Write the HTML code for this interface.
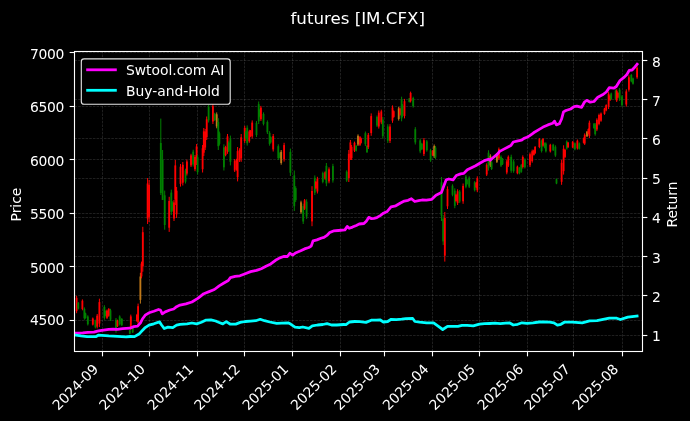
<!DOCTYPE html>
<html><head><meta charset="utf-8"><title>futures [IM.CFX]</title>
<style>html,body{margin:0;padding:0;background:#000;}body{width:690px;height:421px;overflow:hidden;}svg{display:block;filter:blur(0.35px);}
text{font-family:"DejaVu Sans","Liberation Sans",sans-serif;}</style></head>
<body>
<svg width="690" height="421" viewBox="0 0 690 421" font-family="DejaVu Sans, Liberation Sans, sans-serif">
<rect x="0" y="0" width="690" height="421" fill="#000"/>
<defs><clipPath id="ax"><rect x="74.4" y="51.4" width="568" height="299.9"/></clipPath></defs>
<g stroke="#fff" stroke-opacity="0.18" stroke-width="0.694" stroke-dasharray="2.569,1.111" fill="none">
<path d="M102.5 351.5V51.5"/>
<path d="M149.5 351.5V51.5"/>
<path d="M197.5 351.5V51.5"/>
<path d="M244.5 351.5V51.5"/>
<path d="M292.5 351.5V51.5"/>
<path d="M340.5 351.5V51.5"/>
<path d="M384.5 351.5V51.5"/>
<path d="M432.5 351.5V51.5"/>
<path d="M479.5 351.5V51.5"/>
<path d="M527.5 351.5V51.5"/>
<path d="M573.5 351.5V51.5"/>
<path d="M622.5 351.5V51.5"/>
<path d="M74.5 320.5H642.5"/>
<path d="M74.5 266.5H642.5"/>
<path d="M74.5 213.5H642.5"/>
<path d="M74.5 159.5H642.5"/>
<path d="M74.5 106.5H642.5"/>
<path d="M74.5 52.5H642.5"/>
<path d="M74.5 335.5H642.5"/>
<path d="M74.5 295.5H642.5"/>
<path d="M74.5 256.5H642.5"/>
<path d="M74.5 217.5H642.5"/>
<path d="M74.5 178.5H642.5"/>
<path d="M74.5 138.5H642.5"/>
<path d="M74.5 99.5H642.5"/>
<path d="M74.5 60.5H642.5"/>
</g>
<g clip-path="url(#ax)">
<path d="M76.6 295.8V313.2" stroke="#ff0000" stroke-width="1"/>
<rect x="75.70" y="297.9" width="1.8" height="13.2" fill="#ff0000"/>
<path d="M78.3 302.0V309.5" stroke="#008000" stroke-width="1"/>
<rect x="77.40" y="302.9" width="1.8" height="5.7" fill="#008000"/>
<path d="M82.4 299.4V310.3" stroke="#ff0000" stroke-width="1"/>
<rect x="81.50" y="300.7" width="1.8" height="8.3" fill="#ff0000"/>
<path d="M84.4 307.4V319.7" stroke="#008000" stroke-width="1"/>
<rect x="83.50" y="308.9" width="1.8" height="9.3" fill="#008000"/>
<path d="M85.5 312.7V318.7" stroke="#008000" stroke-width="1"/>
<rect x="84.60" y="313.4" width="1.8" height="4.6" fill="#008000"/>
<path d="M87.8 315.3V325.5" stroke="#008000" stroke-width="1"/>
<rect x="86.90" y="316.5" width="1.8" height="7.8" fill="#008000"/>
<path d="M92.8 317.5V325.5" stroke="#ff0000" stroke-width="1"/>
<rect x="91.90" y="318.5" width="1.8" height="6.1" fill="#ff0000"/>
<path d="M95.4 319.7V328.4" stroke="#008000" stroke-width="1"/>
<rect x="94.50" y="320.7" width="1.8" height="6.6" fill="#008000"/>
<path d="M97.2 314.0V328.4" stroke="#ff0000" stroke-width="1"/>
<rect x="96.30" y="315.7" width="1.8" height="10.9" fill="#ff0000"/>
<path d="M99.4 298.7V327.0" stroke="#ff0000" stroke-width="1"/>
<rect x="98.50" y="302.1" width="1.8" height="21.5" fill="#ff0000"/>
<path d="M104.4 305.2V319.7" stroke="#008000" stroke-width="1"/>
<rect x="103.50" y="306.9" width="1.8" height="11.0" fill="#008000"/>
<path d="M105.7 310.4V316.4" stroke="#008000" stroke-width="1"/>
<rect x="104.80" y="311.1" width="1.8" height="4.6" fill="#008000"/>
<path d="M107.0 309.5V319.0" stroke="#ff0000" stroke-width="1"/>
<rect x="106.10" y="310.6" width="1.8" height="7.2" fill="#ff0000"/>
<path d="M108.8 308.0V316.8" stroke="#ff0000" stroke-width="1"/>
<rect x="107.90" y="309.1" width="1.8" height="6.7" fill="#ff0000"/>
<path d="M110.5 308.8V321.0" stroke="#008000" stroke-width="1"/>
<rect x="109.60" y="310.3" width="1.8" height="9.3" fill="#008000"/>
<path d="M116.0 318.0V332.7" stroke="#008000" stroke-width="1"/>
<rect x="115.10" y="319.8" width="1.8" height="11.2" fill="#008000"/>
<path d="M117.5 319.7V327.0" stroke="#ff0000" stroke-width="1"/>
<rect x="116.60" y="320.6" width="1.8" height="5.5" fill="#ff0000"/>
<path d="M119.7 315.3V325.5" stroke="#008000" stroke-width="1"/>
<rect x="118.80" y="316.5" width="1.8" height="7.8" fill="#008000"/>
<path d="M121.8 318.0V326.0" stroke="#008000" stroke-width="1"/>
<rect x="120.90" y="319.0" width="1.8" height="6.1" fill="#008000"/>
<path d="M129.8 329.8V334.2" stroke="#008000" stroke-width="1"/>
<rect x="128.90" y="330.3" width="1.8" height="3.3" fill="#008000"/>
<path d="M130.8 314.6V329.8" stroke="#ff0000" stroke-width="1"/>
<rect x="129.90" y="316.4" width="1.8" height="11.6" fill="#ff0000"/>
<path d="M132.7 327.0V333.0" stroke="#008000" stroke-width="1"/>
<rect x="131.80" y="327.7" width="1.8" height="4.6" fill="#008000"/>
<path d="M136.9 313.9V321.9" stroke="#ff0000" stroke-width="1"/>
<rect x="136.00" y="314.9" width="1.8" height="6.1" fill="#ff0000"/>
<path d="M138.1 303.6V325.0" stroke="#ff0000" stroke-width="1"/>
<rect x="137.20" y="306.2" width="1.8" height="16.3" fill="#ff0000"/>
<path d="M140.4 272.8V303.6" stroke="#c07818" stroke-width="1"/>
<rect x="139.50" y="276.5" width="1.8" height="23.4" fill="#c07818"/>
<path d="M141.5 261.6V278.4" stroke="#ff0000" stroke-width="1"/>
<rect x="140.60" y="263.6" width="1.8" height="12.8" fill="#ff0000"/>
<path d="M142.8 226.8V271.7" stroke="#ff0000" stroke-width="1"/>
<rect x="141.90" y="232.2" width="1.8" height="34.1" fill="#ff0000"/>
<path d="M147.6 178.0V224.0" stroke="#ff0000" stroke-width="1"/>
<rect x="146.70" y="183.5" width="1.8" height="35.0" fill="#ff0000"/>
<path d="M149.1 180.0V222.0" stroke="#ff0000" stroke-width="1"/>
<rect x="148.20" y="185.0" width="1.8" height="31.9" fill="#ff0000"/>
<path d="M160.8 118.6V195.0" stroke="#008000" stroke-width="1"/>
<rect x="159.90" y="143.0" width="1.8" height="50.0" fill="#008000"/>
<path d="M162.6 150.0V200.0" stroke="#008000" stroke-width="1"/>
<rect x="161.70" y="160.0" width="1.8" height="40.0" fill="#008000"/>
<path d="M164.7 190.6V229.7" stroke="#008000" stroke-width="1"/>
<rect x="163.80" y="195.3" width="1.8" height="29.7" fill="#008000"/>
<path d="M169.2 196.8V231.9" stroke="#ff0000" stroke-width="1"/>
<rect x="168.30" y="201.0" width="1.8" height="26.7" fill="#ff0000"/>
<path d="M171.3 189.6V215.0" stroke="#008000" stroke-width="1"/>
<rect x="170.40" y="192.6" width="1.8" height="19.3" fill="#008000"/>
<path d="M172.7 201.2V211.6" stroke="#008000" stroke-width="1"/>
<rect x="171.80" y="202.4" width="1.8" height="7.9" fill="#008000"/>
<path d="M174.0 200.0V221.0" stroke="#ff0000" stroke-width="1"/>
<rect x="173.10" y="202.5" width="1.8" height="16.0" fill="#ff0000"/>
<path d="M175.3 160.0V205.0" stroke="#ff0000" stroke-width="1"/>
<rect x="174.40" y="165.4" width="1.8" height="34.2" fill="#ff0000"/>
<path d="M176.6 187.0V218.0" stroke="#ff0000" stroke-width="1"/>
<rect x="175.70" y="190.7" width="1.8" height="23.6" fill="#ff0000"/>
<path d="M180.5 164.0V186.6" stroke="#ff0000" stroke-width="1"/>
<rect x="179.60" y="166.7" width="1.8" height="17.2" fill="#ff0000"/>
<path d="M182.8 162.0V185.5" stroke="#ff0000" stroke-width="1"/>
<rect x="181.90" y="164.8" width="1.8" height="17.9" fill="#ff0000"/>
<path d="M185.5 168.7V183.5" stroke="#008000" stroke-width="1"/>
<rect x="184.60" y="170.5" width="1.8" height="11.2" fill="#008000"/>
<path d="M186.9 159.6V175.5" stroke="#ff0000" stroke-width="1"/>
<rect x="186.00" y="161.5" width="1.8" height="12.1" fill="#ff0000"/>
<path d="M191.0 153.8V167.0" stroke="#ff0000" stroke-width="1"/>
<rect x="190.10" y="155.4" width="1.8" height="10.0" fill="#ff0000"/>
<path d="M193.2 149.7V166.6" stroke="#008000" stroke-width="1"/>
<rect x="192.30" y="151.7" width="1.8" height="12.8" fill="#008000"/>
<path d="M195.0 155.0V171.2" stroke="#ff0000" stroke-width="1"/>
<rect x="194.10" y="156.9" width="1.8" height="12.3" fill="#ff0000"/>
<path d="M196.6 144.0V165.0" stroke="#ff0000" stroke-width="1"/>
<rect x="195.70" y="146.5" width="1.8" height="16.0" fill="#ff0000"/>
<path d="M197.6 155.0V174.5" stroke="#008000" stroke-width="1"/>
<rect x="196.70" y="157.3" width="1.8" height="14.8" fill="#008000"/>
<path d="M202.6 145.0V172.5" stroke="#ff0000" stroke-width="1"/>
<rect x="201.70" y="148.3" width="1.8" height="20.9" fill="#ff0000"/>
<path d="M203.8 128.0V156.0" stroke="#ff0000" stroke-width="1"/>
<rect x="202.90" y="131.4" width="1.8" height="21.3" fill="#ff0000"/>
<path d="M205.2 129.0V150.0" stroke="#ff0000" stroke-width="1"/>
<rect x="204.30" y="131.5" width="1.8" height="16.0" fill="#ff0000"/>
<path d="M206.7 116.5V140.0" stroke="#ff0000" stroke-width="1"/>
<rect x="205.80" y="119.3" width="1.8" height="17.9" fill="#ff0000"/>
<path d="M208.6 104.8V122.5" stroke="#008000" stroke-width="1"/>
<rect x="207.70" y="106.9" width="1.8" height="13.5" fill="#008000"/>
<path d="M212.9 103.7V124.0" stroke="#ff0000" stroke-width="1"/>
<rect x="212.00" y="106.1" width="1.8" height="15.4" fill="#ff0000"/>
<path d="M214.7 112.8V121.0" stroke="#008000" stroke-width="1"/>
<rect x="213.80" y="113.8" width="1.8" height="6.2" fill="#008000"/>
<path d="M216.7 112.4V128.3" stroke="#c07818" stroke-width="1"/>
<rect x="215.80" y="114.3" width="1.8" height="12.1" fill="#c07818"/>
<path d="M218.3 118.2V150.0" stroke="#008000" stroke-width="1"/>
<rect x="217.40" y="122.0" width="1.8" height="24.2" fill="#008000"/>
<path d="M219.4 131.6V145.5" stroke="#008000" stroke-width="1"/>
<rect x="218.50" y="133.3" width="1.8" height="10.6" fill="#008000"/>
<path d="M223.9 144.3V170.5" stroke="#008000" stroke-width="1"/>
<rect x="223.00" y="147.4" width="1.8" height="19.9" fill="#008000"/>
<path d="M225.6 145.8V156.3" stroke="#ff0000" stroke-width="1"/>
<rect x="224.70" y="147.1" width="1.8" height="8.0" fill="#ff0000"/>
<path d="M227.5 134.0V153.8" stroke="#ff0000" stroke-width="1"/>
<rect x="226.60" y="136.4" width="1.8" height="15.0" fill="#ff0000"/>
<path d="M228.7 141.3V152.0" stroke="#008000" stroke-width="1"/>
<rect x="227.80" y="142.6" width="1.8" height="8.1" fill="#008000"/>
<path d="M230.4 135.6V165.4" stroke="#008000" stroke-width="1"/>
<rect x="229.50" y="139.2" width="1.8" height="22.6" fill="#008000"/>
<path d="M234.7 159.0V172.0" stroke="#ff0000" stroke-width="1"/>
<rect x="233.80" y="160.6" width="1.8" height="9.9" fill="#ff0000"/>
<path d="M236.5 158.8V170.6" stroke="#ff0000" stroke-width="1"/>
<rect x="235.60" y="160.2" width="1.8" height="9.0" fill="#ff0000"/>
<path d="M237.6 147.0V181.4" stroke="#ff0000" stroke-width="1"/>
<rect x="236.70" y="151.1" width="1.8" height="26.1" fill="#ff0000"/>
<path d="M239.6 148.2V162.0" stroke="#ff0000" stroke-width="1"/>
<rect x="238.70" y="149.9" width="1.8" height="10.5" fill="#ff0000"/>
<path d="M241.2 134.0V161.8" stroke="#ff0000" stroke-width="1"/>
<rect x="240.30" y="137.3" width="1.8" height="21.1" fill="#ff0000"/>
<path d="M244.7 125.8V143.0" stroke="#ff0000" stroke-width="1"/>
<rect x="243.80" y="127.9" width="1.8" height="13.1" fill="#ff0000"/>
<path d="M245.8 130.7V139.1" stroke="#008000" stroke-width="1"/>
<rect x="244.90" y="131.7" width="1.8" height="6.4" fill="#008000"/>
<path d="M247.2 125.4V145.6" stroke="#008000" stroke-width="1"/>
<rect x="246.30" y="127.8" width="1.8" height="15.4" fill="#008000"/>
<path d="M249.3 129.8V142.8" stroke="#ff0000" stroke-width="1"/>
<rect x="248.40" y="131.4" width="1.8" height="9.9" fill="#ff0000"/>
<path d="M250.5 130.1V136.9" stroke="#ff0000" stroke-width="1"/>
<rect x="249.60" y="130.9" width="1.8" height="5.2" fill="#ff0000"/>
<path d="M252.2 120.4V138.5" stroke="#ff0000" stroke-width="1"/>
<rect x="251.30" y="122.6" width="1.8" height="13.8" fill="#ff0000"/>
<path d="M256.5 121.0V137.0" stroke="#008000" stroke-width="1"/>
<rect x="255.60" y="122.9" width="1.8" height="12.2" fill="#008000"/>
<path d="M258.7 101.5V124.0" stroke="#008000" stroke-width="1"/>
<rect x="257.80" y="104.2" width="1.8" height="17.1" fill="#008000"/>
<path d="M259.8 108.9V117.3" stroke="#008000" stroke-width="1"/>
<rect x="258.90" y="109.9" width="1.8" height="6.4" fill="#008000"/>
<path d="M260.9 105.9V121.0" stroke="#ff0000" stroke-width="1"/>
<rect x="260.00" y="107.7" width="1.8" height="11.5" fill="#ff0000"/>
<path d="M263.5 112.4V125.4" stroke="#008000" stroke-width="1"/>
<rect x="262.60" y="114.0" width="1.8" height="9.9" fill="#008000"/>
<path d="M267.4 120.4V134.0" stroke="#008000" stroke-width="1"/>
<rect x="266.50" y="122.0" width="1.8" height="10.3" fill="#008000"/>
<path d="M269.6 131.2V145.7" stroke="#008000" stroke-width="1"/>
<rect x="268.70" y="132.9" width="1.8" height="11.0" fill="#008000"/>
<path d="M270.7 136.3V143.3" stroke="#008000" stroke-width="1"/>
<rect x="269.80" y="137.1" width="1.8" height="5.3" fill="#008000"/>
<path d="M273.2 134.0V151.5" stroke="#ff0000" stroke-width="1"/>
<rect x="272.30" y="136.1" width="1.8" height="13.3" fill="#ff0000"/>
<path d="M278.3 144.3V160.0" stroke="#008000" stroke-width="1"/>
<rect x="277.40" y="146.2" width="1.8" height="11.9" fill="#008000"/>
<path d="M280.1 152.0V158.7" stroke="#008000" stroke-width="1"/>
<rect x="279.20" y="152.8" width="1.8" height="5.1" fill="#008000"/>
<path d="M281.2 150.0V164.7" stroke="#c07818" stroke-width="1"/>
<rect x="280.30" y="151.8" width="1.8" height="11.2" fill="#c07818"/>
<path d="M284.1 142.8V161.6" stroke="#ff0000" stroke-width="1"/>
<rect x="283.20" y="145.1" width="1.8" height="14.3" fill="#ff0000"/>
<path d="M290.4 148.6V176.0" stroke="#008000" stroke-width="1"/>
<rect x="289.50" y="151.9" width="1.8" height="20.8" fill="#008000"/>
<path d="M294.3 170.5V211.0" stroke="#008000" stroke-width="1"/>
<rect x="293.40" y="175.4" width="1.8" height="30.8" fill="#008000"/>
<path d="M295.7 186.2V202.0" stroke="#008000" stroke-width="1"/>
<rect x="294.80" y="188.1" width="1.8" height="12.0" fill="#008000"/>
<path d="M301.0 200.7V213.8" stroke="#c07818" stroke-width="1"/>
<rect x="300.10" y="202.3" width="1.8" height="10.0" fill="#c07818"/>
<path d="M303.2 203.7V224.0" stroke="#008000" stroke-width="1"/>
<rect x="302.30" y="206.1" width="1.8" height="15.4" fill="#008000"/>
<path d="M304.6 199.0V210.0" stroke="#ff0000" stroke-width="1"/>
<rect x="303.70" y="200.3" width="1.8" height="8.4" fill="#ff0000"/>
<path d="M306.6 199.3V218.9" stroke="#008000" stroke-width="1"/>
<rect x="305.70" y="201.7" width="1.8" height="14.9" fill="#008000"/>
<path d="M312.0 186.2V226.2" stroke="#ff0000" stroke-width="1"/>
<rect x="311.10" y="191.0" width="1.8" height="30.4" fill="#ff0000"/>
<path d="M314.8 175.4V195.0" stroke="#008000" stroke-width="1"/>
<rect x="313.90" y="177.8" width="1.8" height="14.9" fill="#008000"/>
<path d="M315.9 181.0V189.3" stroke="#ff0000" stroke-width="1"/>
<rect x="315.00" y="182.0" width="1.8" height="6.3" fill="#ff0000"/>
<path d="M317.4 176.8V193.5" stroke="#ff0000" stroke-width="1"/>
<rect x="316.50" y="178.8" width="1.8" height="12.7" fill="#ff0000"/>
<path d="M322.8 171.7V183.3" stroke="#008000" stroke-width="1"/>
<rect x="321.90" y="173.1" width="1.8" height="8.8" fill="#008000"/>
<path d="M325.2 171.2V179.9" stroke="#ff0000" stroke-width="1"/>
<rect x="324.30" y="172.2" width="1.8" height="6.6" fill="#ff0000"/>
<path d="M326.4 163.0V186.2" stroke="#008000" stroke-width="1"/>
<rect x="325.50" y="165.8" width="1.8" height="17.6" fill="#008000"/>
<path d="M329.0 167.4V183.3" stroke="#ff0000" stroke-width="1"/>
<rect x="328.10" y="169.3" width="1.8" height="12.1" fill="#ff0000"/>
<path d="M332.9 163.8V182.6" stroke="#008000" stroke-width="1"/>
<rect x="332.00" y="166.1" width="1.8" height="14.3" fill="#008000"/>
<path d="M346.7 170.3V181.9" stroke="#008000" stroke-width="1"/>
<rect x="345.80" y="171.7" width="1.8" height="8.8" fill="#008000"/>
<path d="M348.8 150.0V182.0" stroke="#ff0000" stroke-width="1"/>
<rect x="347.90" y="153.8" width="1.8" height="24.3" fill="#ff0000"/>
<path d="M350.4 140.0V160.0" stroke="#ff0000" stroke-width="1"/>
<rect x="349.50" y="142.4" width="1.8" height="15.2" fill="#ff0000"/>
<path d="M351.6 145.0V160.0" stroke="#ff0000" stroke-width="1"/>
<rect x="350.70" y="146.8" width="1.8" height="11.4" fill="#ff0000"/>
<path d="M354.5 141.6V152.0" stroke="#ff0000" stroke-width="1"/>
<rect x="353.60" y="142.8" width="1.8" height="7.9" fill="#ff0000"/>
<path d="M356.1 145.0V151.5" stroke="#008000" stroke-width="1"/>
<rect x="355.20" y="145.8" width="1.8" height="4.9" fill="#008000"/>
<path d="M358.0 134.4V146.0" stroke="#c07818" stroke-width="1"/>
<rect x="357.10" y="135.8" width="1.8" height="8.8" fill="#c07818"/>
<path d="M360.0 136.0V146.0" stroke="#ff0000" stroke-width="1"/>
<rect x="359.10" y="137.2" width="1.8" height="7.6" fill="#ff0000"/>
<path d="M361.0 137.6V143.6" stroke="#ff0000" stroke-width="1"/>
<rect x="360.10" y="138.3" width="1.8" height="4.6" fill="#ff0000"/>
<path d="M365.4 131.5V146.0" stroke="#008000" stroke-width="1"/>
<rect x="364.50" y="133.2" width="1.8" height="11.0" fill="#008000"/>
<path d="M367.0 145.0V153.0" stroke="#008000" stroke-width="1"/>
<rect x="366.10" y="146.0" width="1.8" height="6.1" fill="#008000"/>
<path d="M368.3 133.0V149.0" stroke="#ff0000" stroke-width="1"/>
<rect x="367.40" y="134.9" width="1.8" height="12.2" fill="#ff0000"/>
<path d="M371.2 113.4V135.8" stroke="#ff0000" stroke-width="1"/>
<rect x="370.30" y="116.1" width="1.8" height="17.0" fill="#ff0000"/>
<path d="M377.0 115.5V127.0" stroke="#008000" stroke-width="1"/>
<rect x="376.10" y="116.9" width="1.8" height="8.7" fill="#008000"/>
<path d="M378.8 110.5V128.6" stroke="#ff0000" stroke-width="1"/>
<rect x="377.90" y="112.7" width="1.8" height="13.8" fill="#ff0000"/>
<path d="M381.3 109.7V124.2" stroke="#ff0000" stroke-width="1"/>
<rect x="380.40" y="111.4" width="1.8" height="11.0" fill="#ff0000"/>
<path d="M382.8 117.0V138.7" stroke="#008000" stroke-width="1"/>
<rect x="381.90" y="119.6" width="1.8" height="16.5" fill="#008000"/>
<path d="M387.8 124.2V143.0" stroke="#008000" stroke-width="1"/>
<rect x="386.90" y="126.5" width="1.8" height="14.3" fill="#008000"/>
<path d="M390.0 124.2V143.0" stroke="#ff0000" stroke-width="1"/>
<rect x="389.10" y="126.5" width="1.8" height="14.3" fill="#ff0000"/>
<path d="M392.5 105.4V122.8" stroke="#ff0000" stroke-width="1"/>
<rect x="391.60" y="107.5" width="1.8" height="13.2" fill="#ff0000"/>
<path d="M393.7 110.3V117.8" stroke="#ff0000" stroke-width="1"/>
<rect x="392.80" y="111.2" width="1.8" height="5.7" fill="#ff0000"/>
<path d="M398.7 106.8V120.6" stroke="#c07818" stroke-width="1"/>
<rect x="397.80" y="108.5" width="1.8" height="10.5" fill="#c07818"/>
<path d="M400.0 107.5V115.8" stroke="#ff0000" stroke-width="1"/>
<rect x="399.10" y="108.5" width="1.8" height="6.3" fill="#ff0000"/>
<path d="M401.6 96.7V121.3" stroke="#008000" stroke-width="1"/>
<rect x="400.70" y="99.7" width="1.8" height="18.7" fill="#008000"/>
<path d="M402.6 104.0V117.0" stroke="#008000" stroke-width="1"/>
<rect x="401.70" y="105.6" width="1.8" height="9.9" fill="#008000"/>
<path d="M404.5 98.9V118.4" stroke="#ff0000" stroke-width="1"/>
<rect x="403.60" y="101.2" width="1.8" height="14.8" fill="#ff0000"/>
<path d="M409.3 98.0V102.5" stroke="#008000" stroke-width="1"/>
<rect x="408.40" y="98.5" width="1.8" height="3.4" fill="#008000"/>
<path d="M410.6 91.6V102.5" stroke="#ff0000" stroke-width="1"/>
<rect x="409.70" y="92.9" width="1.8" height="8.3" fill="#ff0000"/>
<path d="M413.2 96.7V107.6" stroke="#008000" stroke-width="1"/>
<rect x="412.30" y="98.0" width="1.8" height="8.3" fill="#008000"/>
<path d="M415.3 127.1V144.5" stroke="#008000" stroke-width="1"/>
<rect x="414.40" y="129.2" width="1.8" height="13.2" fill="#008000"/>
<path d="M420.2 138.7V153.2" stroke="#008000" stroke-width="1"/>
<rect x="419.30" y="140.4" width="1.8" height="11.0" fill="#008000"/>
<path d="M421.8 142.8V150.0" stroke="#008000" stroke-width="1"/>
<rect x="420.90" y="143.7" width="1.8" height="5.5" fill="#008000"/>
<path d="M423.9 138.0V156.0" stroke="#ff0000" stroke-width="1"/>
<rect x="423.00" y="140.2" width="1.8" height="13.7" fill="#ff0000"/>
<path d="M426.8 140.0V151.7" stroke="#008000" stroke-width="1"/>
<rect x="425.90" y="141.4" width="1.8" height="8.9" fill="#008000"/>
<path d="M430.6 148.8V161.9" stroke="#008000" stroke-width="1"/>
<rect x="429.70" y="150.4" width="1.8" height="10.0" fill="#008000"/>
<path d="M432.7 150.0V156.0" stroke="#ff0000" stroke-width="1"/>
<rect x="431.80" y="150.7" width="1.8" height="4.6" fill="#ff0000"/>
<path d="M434.2 144.5V158.0" stroke="#c07818" stroke-width="1"/>
<rect x="433.30" y="146.1" width="1.8" height="10.3" fill="#c07818"/>
<path d="M435.5 146.0V159.0" stroke="#008000" stroke-width="1"/>
<rect x="434.60" y="147.6" width="1.8" height="9.9" fill="#008000"/>
<path d="M441.5 177.0V221.0" stroke="#008000" stroke-width="1"/>
<rect x="440.60" y="182.3" width="1.8" height="33.4" fill="#008000"/>
<path d="M443.2 215.0V245.0" stroke="#008000" stroke-width="1"/>
<rect x="442.30" y="218.6" width="1.8" height="22.8" fill="#008000"/>
<path d="M444.8 212.0V261.6" stroke="#ff0000" stroke-width="1"/>
<rect x="443.90" y="218.0" width="1.8" height="37.7" fill="#ff0000"/>
<path d="M447.5 186.4V209.0" stroke="#ff0000" stroke-width="1"/>
<rect x="446.60" y="189.1" width="1.8" height="17.2" fill="#ff0000"/>
<path d="M452.5 184.3V196.3" stroke="#008000" stroke-width="1"/>
<rect x="451.60" y="185.7" width="1.8" height="9.1" fill="#008000"/>
<path d="M454.8 188.3V208.2" stroke="#008000" stroke-width="1"/>
<rect x="453.90" y="190.7" width="1.8" height="15.1" fill="#008000"/>
<path d="M456.0 193.7V201.8" stroke="#ff0000" stroke-width="1"/>
<rect x="455.10" y="194.7" width="1.8" height="6.2" fill="#ff0000"/>
<path d="M457.6 189.3V205.0" stroke="#ff0000" stroke-width="1"/>
<rect x="456.70" y="191.2" width="1.8" height="11.9" fill="#ff0000"/>
<path d="M459.7 190.0V203.0" stroke="#008000" stroke-width="1"/>
<rect x="458.80" y="191.6" width="1.8" height="9.9" fill="#008000"/>
<path d="M463.1 183.5V203.8" stroke="#ff0000" stroke-width="1"/>
<rect x="462.20" y="185.9" width="1.8" height="15.4" fill="#ff0000"/>
<path d="M465.9 175.0V188.3" stroke="#008000" stroke-width="1"/>
<rect x="465.00" y="176.6" width="1.8" height="10.1" fill="#008000"/>
<path d="M466.9 178.8V184.8" stroke="#008000" stroke-width="1"/>
<rect x="466.00" y="179.5" width="1.8" height="4.6" fill="#008000"/>
<path d="M469.2 176.3V188.0" stroke="#008000" stroke-width="1"/>
<rect x="468.30" y="177.7" width="1.8" height="8.9" fill="#008000"/>
<path d="M474.7 181.1V191.5" stroke="#008000" stroke-width="1"/>
<rect x="473.80" y="182.3" width="1.8" height="7.9" fill="#008000"/>
<path d="M476.3 182.0V188.2" stroke="#ff0000" stroke-width="1"/>
<rect x="475.40" y="182.7" width="1.8" height="4.7" fill="#ff0000"/>
<path d="M477.3 176.3V192.2" stroke="#ff0000" stroke-width="1"/>
<rect x="476.40" y="178.2" width="1.8" height="12.1" fill="#ff0000"/>
<path d="M486.7 163.3V176.0" stroke="#ff0000" stroke-width="1"/>
<rect x="485.80" y="164.8" width="1.8" height="9.7" fill="#ff0000"/>
<path d="M488.5 150.3V170.6" stroke="#008000" stroke-width="1"/>
<rect x="487.60" y="152.7" width="1.8" height="15.4" fill="#008000"/>
<path d="M490.4 154.3V167.0" stroke="#c07818" stroke-width="1"/>
<rect x="489.50" y="155.8" width="1.8" height="9.7" fill="#c07818"/>
<path d="M491.6 161.2V170.0" stroke="#008000" stroke-width="1"/>
<rect x="490.70" y="162.3" width="1.8" height="6.7" fill="#008000"/>
<path d="M496.9 153.0V163.0" stroke="#c07818" stroke-width="1"/>
<rect x="496.00" y="154.2" width="1.8" height="7.6" fill="#c07818"/>
<path d="M498.9 147.5V160.0" stroke="#ff0000" stroke-width="1"/>
<rect x="498.00" y="149.0" width="1.8" height="9.5" fill="#ff0000"/>
<path d="M501.0 155.4V167.0" stroke="#008000" stroke-width="1"/>
<rect x="500.10" y="156.8" width="1.8" height="8.8" fill="#008000"/>
<path d="M502.5 158.0V165.0" stroke="#008000" stroke-width="1"/>
<rect x="501.60" y="158.8" width="1.8" height="5.3" fill="#008000"/>
<path d="M506.8 159.8V174.3" stroke="#ff0000" stroke-width="1"/>
<rect x="505.90" y="161.5" width="1.8" height="11.0" fill="#ff0000"/>
<path d="M508.3 155.4V167.0" stroke="#ff0000" stroke-width="1"/>
<rect x="507.40" y="156.8" width="1.8" height="8.8" fill="#ff0000"/>
<path d="M511.2 154.7V172.8" stroke="#008000" stroke-width="1"/>
<rect x="510.30" y="156.9" width="1.8" height="13.8" fill="#008000"/>
<path d="M513.6 160.0V172.8" stroke="#008000" stroke-width="1"/>
<rect x="512.70" y="161.5" width="1.8" height="9.7" fill="#008000"/>
<path d="M517.4 165.6V174.3" stroke="#ff0000" stroke-width="1"/>
<rect x="516.50" y="166.6" width="1.8" height="6.6" fill="#ff0000"/>
<path d="M519.4 167.0V174.3" stroke="#008000" stroke-width="1"/>
<rect x="518.50" y="167.9" width="1.8" height="5.5" fill="#008000"/>
<path d="M521.3 164.0V172.8" stroke="#008000" stroke-width="1"/>
<rect x="520.40" y="165.1" width="1.8" height="6.7" fill="#008000"/>
<path d="M522.8 155.4V168.5" stroke="#ff0000" stroke-width="1"/>
<rect x="521.90" y="157.0" width="1.8" height="10.0" fill="#ff0000"/>
<path d="M524.9 158.3V168.5" stroke="#008000" stroke-width="1"/>
<rect x="524.00" y="159.5" width="1.8" height="7.8" fill="#008000"/>
<path d="M530.0 152.5V167.0" stroke="#ff0000" stroke-width="1"/>
<rect x="529.10" y="154.2" width="1.8" height="11.0" fill="#ff0000"/>
<path d="M532.2 149.6V162.7" stroke="#ff0000" stroke-width="1"/>
<rect x="531.30" y="151.2" width="1.8" height="10.0" fill="#ff0000"/>
<path d="M533.9 149.6V155.6" stroke="#ff0000" stroke-width="1"/>
<rect x="533.00" y="150.3" width="1.8" height="4.6" fill="#ff0000"/>
<path d="M535.1 146.0V154.0" stroke="#ff0000" stroke-width="1"/>
<rect x="534.20" y="147.0" width="1.8" height="6.1" fill="#ff0000"/>
<path d="M539.4 138.0V148.2" stroke="#ff0000" stroke-width="1"/>
<rect x="538.50" y="139.2" width="1.8" height="7.8" fill="#ff0000"/>
<path d="M541.6 139.5V152.5" stroke="#008000" stroke-width="1"/>
<rect x="540.70" y="141.1" width="1.8" height="9.9" fill="#008000"/>
<path d="M543.0 138.0V146.7" stroke="#ff0000" stroke-width="1"/>
<rect x="542.10" y="139.0" width="1.8" height="6.6" fill="#ff0000"/>
<path d="M544.8 142.4V148.4" stroke="#008000" stroke-width="1"/>
<rect x="543.90" y="143.1" width="1.8" height="4.6" fill="#008000"/>
<path d="M545.9 142.4V152.5" stroke="#008000" stroke-width="1"/>
<rect x="545.00" y="143.6" width="1.8" height="7.7" fill="#008000"/>
<path d="M550.3 143.8V152.5" stroke="#ff0000" stroke-width="1"/>
<rect x="549.40" y="144.8" width="1.8" height="6.6" fill="#ff0000"/>
<path d="M553.2 143.8V151.0" stroke="#008000" stroke-width="1"/>
<rect x="552.30" y="144.7" width="1.8" height="5.5" fill="#008000"/>
<path d="M555.4 145.3V156.9" stroke="#008000" stroke-width="1"/>
<rect x="554.50" y="146.7" width="1.8" height="8.8" fill="#008000"/>
<path d="M556.5 178.5V184.2" stroke="#008000" stroke-width="1"/>
<rect x="555.60" y="179.2" width="1.8" height="4.3" fill="#008000"/>
<path d="M561.6 159.8V184.8" stroke="#ff0000" stroke-width="1"/>
<rect x="560.70" y="162.8" width="1.8" height="19.0" fill="#ff0000"/>
<path d="M563.6 145.3V174.6" stroke="#ff0000" stroke-width="1"/>
<rect x="562.70" y="148.8" width="1.8" height="22.3" fill="#ff0000"/>
<path d="M565.0 148.8V158.0" stroke="#ff0000" stroke-width="1"/>
<rect x="564.10" y="149.9" width="1.8" height="7.0" fill="#ff0000"/>
<path d="M566.8 140.4V149.6" stroke="#008000" stroke-width="1"/>
<rect x="565.90" y="141.5" width="1.8" height="7.0" fill="#008000"/>
<path d="M568.1 141.9V147.9" stroke="#ff0000" stroke-width="1"/>
<rect x="567.20" y="142.6" width="1.8" height="4.6" fill="#ff0000"/>
<path d="M572.7 141.0V148.2" stroke="#ff0000" stroke-width="1"/>
<rect x="571.80" y="141.9" width="1.8" height="5.5" fill="#ff0000"/>
<path d="M574.9 142.4V150.3" stroke="#008000" stroke-width="1"/>
<rect x="574.00" y="143.3" width="1.8" height="6.0" fill="#008000"/>
<path d="M577.4 139.5V149.6" stroke="#ff0000" stroke-width="1"/>
<rect x="576.50" y="140.7" width="1.8" height="7.7" fill="#ff0000"/>
<path d="M579.3 142.4V149.6" stroke="#008000" stroke-width="1"/>
<rect x="578.40" y="143.3" width="1.8" height="5.5" fill="#008000"/>
<path d="M583.7 137.5V143.5" stroke="#ff0000" stroke-width="1"/>
<rect x="582.80" y="138.2" width="1.8" height="4.6" fill="#ff0000"/>
<path d="M584.7 133.4V145.0" stroke="#ff0000" stroke-width="1"/>
<rect x="583.80" y="134.8" width="1.8" height="8.8" fill="#ff0000"/>
<path d="M587.0 131.0V137.0" stroke="#c07818" stroke-width="1"/>
<rect x="586.10" y="131.7" width="1.8" height="4.6" fill="#c07818"/>
<path d="M588.4 128.4V134.4" stroke="#ff0000" stroke-width="1"/>
<rect x="587.50" y="129.1" width="1.8" height="4.6" fill="#ff0000"/>
<path d="M589.4 120.6V138.1" stroke="#ff0000" stroke-width="1"/>
<rect x="588.50" y="122.7" width="1.8" height="13.3" fill="#ff0000"/>
<path d="M594.0 123.0V128.8" stroke="#008000" stroke-width="1"/>
<rect x="593.10" y="123.7" width="1.8" height="4.4" fill="#008000"/>
<path d="M595.2 123.0V135.7" stroke="#008000" stroke-width="1"/>
<rect x="594.30" y="124.5" width="1.8" height="9.7" fill="#008000"/>
<path d="M596.9 118.3V131.1" stroke="#ff0000" stroke-width="1"/>
<rect x="596.00" y="119.8" width="1.8" height="9.7" fill="#ff0000"/>
<path d="M599.0 113.6V125.3" stroke="#ff0000" stroke-width="1"/>
<rect x="598.10" y="115.0" width="1.8" height="8.9" fill="#ff0000"/>
<path d="M601.0 112.5V121.8" stroke="#ff0000" stroke-width="1"/>
<rect x="600.10" y="113.6" width="1.8" height="7.1" fill="#ff0000"/>
<path d="M604.5 107.8V114.8" stroke="#ff0000" stroke-width="1"/>
<rect x="603.60" y="108.6" width="1.8" height="5.3" fill="#ff0000"/>
<path d="M606.2 104.3V111.3" stroke="#ff0000" stroke-width="1"/>
<rect x="605.30" y="105.1" width="1.8" height="5.3" fill="#ff0000"/>
<path d="M608.6 91.6V109.0" stroke="#ff0000" stroke-width="1"/>
<rect x="607.70" y="93.7" width="1.8" height="13.2" fill="#ff0000"/>
<path d="M610.1 94.9V100.9" stroke="#ff0000" stroke-width="1"/>
<rect x="609.20" y="95.6" width="1.8" height="4.6" fill="#ff0000"/>
<path d="M611.2 92.6V100.0" stroke="#008000" stroke-width="1"/>
<rect x="610.30" y="93.5" width="1.8" height="5.6" fill="#008000"/>
<path d="M615.6 89.3V100.0" stroke="#008000" stroke-width="1"/>
<rect x="614.70" y="90.6" width="1.8" height="8.1" fill="#008000"/>
<path d="M616.7 89.3V102.0" stroke="#ff0000" stroke-width="1"/>
<rect x="615.80" y="90.8" width="1.8" height="9.7" fill="#ff0000"/>
<path d="M617.9 92.2V98.2" stroke="#ff0000" stroke-width="1"/>
<rect x="617.00" y="92.9" width="1.8" height="4.6" fill="#ff0000"/>
<path d="M619.6 88.0V101.0" stroke="#008000" stroke-width="1"/>
<rect x="618.70" y="89.6" width="1.8" height="9.9" fill="#008000"/>
<path d="M622.0 95.0V106.6" stroke="#008000" stroke-width="1"/>
<rect x="621.10" y="96.4" width="1.8" height="8.8" fill="#008000"/>
<path d="M626.3 89.3V106.6" stroke="#ff0000" stroke-width="1"/>
<rect x="625.40" y="91.4" width="1.8" height="13.1" fill="#ff0000"/>
<path d="M628.9 75.3V91.6" stroke="#ff0000" stroke-width="1"/>
<rect x="628.00" y="77.3" width="1.8" height="12.4" fill="#ff0000"/>
<path d="M631.3 74.0V82.3" stroke="#008000" stroke-width="1"/>
<rect x="630.40" y="75.0" width="1.8" height="6.3" fill="#008000"/>
<path d="M633.0 77.6V84.6" stroke="#008000" stroke-width="1"/>
<rect x="632.10" y="78.4" width="1.8" height="5.3" fill="#008000"/>
<path d="M637.1 66.3V78.8" stroke="#ff0000" stroke-width="1"/>
<rect x="636.20" y="67.8" width="1.8" height="9.5" fill="#ff0000"/>
</g>
<g clip-path="url(#ax)" fill="none" stroke-width="2.778" stroke-linejoin="round" stroke-linecap="square">
<path d="M75.3 333.1 L82.7 332.8 L87.9 332.4 L94.0 332.2 L97.5 331.1 L100.1 330.7 L108.8 329.3 L113.1 329.1 L117.5 329.3 L122.7 328.7 L129.7 328.2 L133.8 326.6 L137.6 326.1 L140.5 322.8 L142.4 319.0 L145.2 315.2 L149.0 312.8 L153.8 311.2 L158.5 309.5 L160.4 310.0 L162.3 313.8 L165.2 311.9 L169.9 310.0 L173.7 309.0 L176.6 306.7 L180.0 305.1 L185.9 303.8 L191.9 302.0 L197.8 298.4 L203.8 293.7 L208.5 291.9 L214.4 289.5 L219.2 285.9 L223.9 283.0 L228.3 280.5 L230.4 277.6 L235.1 276.4 L239.9 275.8 L244.6 274.0 L250.6 271.6 L256.5 270.4 L261.3 268.7 L266.0 266.3 L270.8 263.9 L275.5 260.3 L279.8 257.9 L283.6 256.5 L287.4 256.5 L289.8 253.2 L292.6 255.1 L296.0 252.7 L300.7 250.8 L304.5 248.9 L308.8 247.5 L311.2 246.1 L313.1 240.8 L316.9 239.9 L321.6 238.0 L324.0 237.3 L326.9 235.4 L329.7 232.6 L333.5 230.9 L338.3 230.5 L344.9 229.9 L347.3 226.4 L349.2 228.3 L352.5 227.1 L356.3 225.4 L359.2 224.0 L363.9 223.5 L366.3 221.2 L368.7 217.4 L371.5 218.6 L374.0 218.3 L376.8 217.7 L380.6 215.3 L383.4 213.2 L387.2 211.5 L391.0 206.8 L395.8 205.8 L400.5 203.0 L404.3 201.1 L408.1 200.3 L411.4 198.7 L414.8 201.5 L418.6 200.6 L422.0 200.0 L426.4 200.1 L431.8 199.3 L436.0 195.3 L441.4 192.6 L443.5 186.7 L446.2 179.8 L448.8 179.0 L453.1 179.8 L456.3 175.5 L460.6 173.9 L463.8 173.4 L467.3 169.8 L471.5 167.8 L475.6 165.8 L479.8 163.3 L484.4 160.6 L488.5 159.2 L490.2 160.3 L492.7 158.0 L497.1 154.4 L499.7 151.4 L503.9 149.1 L508.5 146.7 L510.9 145.5 L513.3 142.0 L518.0 140.8 L521.6 140.2 L524.0 138.4 L527.0 137.3 L529.8 135.6 L533.6 132.8 L538.4 129.9 L543.1 127.1 L547.9 124.9 L552.6 123.3 L554.5 121.1 L556.4 124.9 L559.3 123.8 L561.6 119.0 L563.5 111.9 L565.9 110.5 L570.7 109.0 L574.0 106.7 L576.9 106.2 L581.6 107.4 L584.5 102.0 L586.8 100.3 L590.2 102.2 L594.0 101.5 L597.8 97.2 L602.5 94.8 L606.3 92.0 L609.2 87.7 L613.9 88.2 L616.3 86.5 L620.0 80.5 L624.3 77.1 L627.1 74.2 L629.2 70.3 L632.1 70.0 L634.2 67.8 L637.1 64.3" stroke="#ff00ff"/>
<path d="M75.3 335.0 L81.0 335.9 L87.0 336.7 L95.7 336.7 L98.3 335.2 L101.8 335.4 L108.8 335.9 L117.5 336.3 L126.2 336.9 L130.0 336.5 L134.5 336.6 L139.5 333.7 L142.4 330.4 L145.2 327.6 L149.0 325.2 L153.8 323.8 L159.5 321.9 L161.4 324.7 L164.2 328.5 L168.0 327.1 L172.8 327.6 L176.6 325.2 L180.0 324.4 L187.1 323.9 L191.9 323.0 L196.6 323.9 L201.4 322.2 L206.1 320.1 L210.9 319.8 L215.6 321.0 L219.2 322.5 L222.8 323.9 L226.3 321.6 L230.0 324.0 L235.8 324.1 L240.2 322.4 L245.4 321.5 L250.6 321.1 L255.8 320.7 L260.2 319.3 L264.5 320.7 L269.7 322.0 L276.7 323.3 L281.9 323.1 L288.0 322.8 L290.6 324.1 L295.0 327.1 L299.3 327.6 L302.8 327.0 L308.9 328.4 L312.3 325.8 L317.6 325.0 L322.8 324.5 L327.1 323.7 L331.5 325.0 L336.7 325.0 L343.7 324.5 L346.0 324.6 L349.5 322.0 L354.7 321.5 L359.9 321.7 L366.0 322.4 L371.2 320.2 L376.4 320.2 L379.9 319.8 L383.4 322.0 L387.7 321.5 L391.2 319.3 L396.4 319.6 L401.7 319.2 L406.0 318.6 L412.7 318.5 L414.9 321.5 L419.7 322.2 L426.6 322.8 L433.6 322.8 L438.8 326.7 L442.7 329.5 L447.5 326.3 L452.7 326.3 L457.9 326.3 L462.0 325.4 L467.2 325.4 L473.3 325.8 L479.4 324.1 L484.6 323.7 L489.8 323.5 L495.0 323.2 L500.3 323.7 L505.5 323.2 L509.8 323.0 L513.3 325.0 L517.7 324.3 L522.0 322.8 L527.0 323.3 L533.0 322.8 L539.1 322.0 L544.3 322.0 L549.6 322.2 L553.9 322.8 L557.4 325.2 L560.9 324.3 L564.3 322.2 L572.3 322.2 L582.2 322.8 L589.6 320.9 L597.0 320.7 L609.3 318.2 L616.7 318.2 L620.4 319.5 L627.8 317.2 L637.1 316.0" stroke="#00ffff"/>
</g>
<rect x="74.5" y="51.5" width="568.0" height="300.0" fill="none" stroke="#fff" stroke-width="1.111" stroke-linejoin="miter"/>
<g stroke="#fff" stroke-width="1.111">
<path d="M102.5 351.5v4.86"/>
<path d="M149.5 351.5v4.86"/>
<path d="M197.5 351.5v4.86"/>
<path d="M244.5 351.5v4.86"/>
<path d="M292.5 351.5v4.86"/>
<path d="M340.5 351.5v4.86"/>
<path d="M384.5 351.5v4.86"/>
<path d="M432.5 351.5v4.86"/>
<path d="M479.5 351.5v4.86"/>
<path d="M527.5 351.5v4.86"/>
<path d="M573.5 351.5v4.86"/>
<path d="M622.5 351.5v4.86"/>
<path d="M74.5 320.5h-4.86"/>
<path d="M74.5 266.5h-4.86"/>
<path d="M74.5 213.5h-4.86"/>
<path d="M74.5 159.5h-4.86"/>
<path d="M74.5 106.5h-4.86"/>
<path d="M74.5 52.5h-4.86"/>
<path d="M642.5 335.5h4.86"/>
<path d="M642.5 295.5h4.86"/>
<path d="M642.5 256.5h4.86"/>
<path d="M642.5 217.5h4.86"/>
<path d="M642.5 178.5h4.86"/>
<path d="M642.5 138.5h4.86"/>
<path d="M642.5 99.5h4.86"/>
<path d="M642.5 60.5h4.86"/>
</g>
<g fill="#fff" font-size="13.889px">
<text x="64.3" y="325.48" text-anchor="end" textLength="34.3">4500</text>
<text x="64.3" y="272.98" text-anchor="end" textLength="34.3">5000</text>
<text x="64.3" y="219.38" text-anchor="end" textLength="34.3">5500</text>
<text x="64.3" y="165.78" text-anchor="end" textLength="34.3">6000</text>
<text x="64.3" y="112.18" text-anchor="end" textLength="34.3">6500</text>
<text x="64.3" y="58.58" text-anchor="end" textLength="34.3">7000</text>
<text x="652.1" y="340.88">1</text>
<text x="652.1" y="302.48">2</text>
<text x="652.1" y="263.18">3</text>
<text x="652.1" y="222.98">4</text>
<text x="652.1" y="183.58">5</text>
<text x="652.1" y="145.28">6</text>
<text x="652.1" y="105.98">7</text>
<text x="652.1" y="66.68">8</text>
<text transform="translate(58.32 411.07) rotate(-45)">2024-09</text>
<text transform="translate(105.03 411.07) rotate(-45)">2024-10</text>
<text transform="translate(153.29 411.07) rotate(-45)">2024-11</text>
<text transform="translate(200.00 411.07) rotate(-45)">2024-12</text>
<text transform="translate(248.26 411.07) rotate(-45)">2025-01</text>
<text transform="translate(296.53 411.07) rotate(-45)">2025-02</text>
<text transform="translate(340.12 411.07) rotate(-45)">2025-03</text>
<text transform="translate(388.39 411.07) rotate(-45)">2025-04</text>
<text transform="translate(435.09 411.07) rotate(-45)">2025-05</text>
<text transform="translate(483.36 411.07) rotate(-45)">2025-06</text>
<text transform="translate(530.06 411.07) rotate(-45)">2025-07</text>
<text transform="translate(578.33 411.07) rotate(-45)">2025-08</text>
<text transform="translate(20.89 204.55) rotate(-90)" text-anchor="middle">Price</text>
<text transform="translate(677.07 204.55) rotate(-90)" text-anchor="middle">Return</text>
<text x="357.7" y="23.5" text-anchor="middle" font-size="16.667px">futures [IM.CFX]</text>
</g>
<rect x="81.3" y="58.9" width="148.9" height="45.4" rx="2.78" ry="2.78" fill="#000" stroke="#e6e6e6" stroke-width="1.111"/>
<path d="M87.6 69.8H115.4" stroke="#ff00ff" stroke-width="2.778" stroke-linecap="square"/>
<path d="M87.6 90.3H115.4" stroke="#00ffff" stroke-width="2.778" stroke-linecap="square"/>
<text x="125.9" y="75.25" fill="#fff" font-size="13.889px">Swtool.com AI</text>
<text x="125.9" y="95.64" fill="#fff" font-size="13.889px">Buy-and-Hold</text>
</svg>
</body></html>
